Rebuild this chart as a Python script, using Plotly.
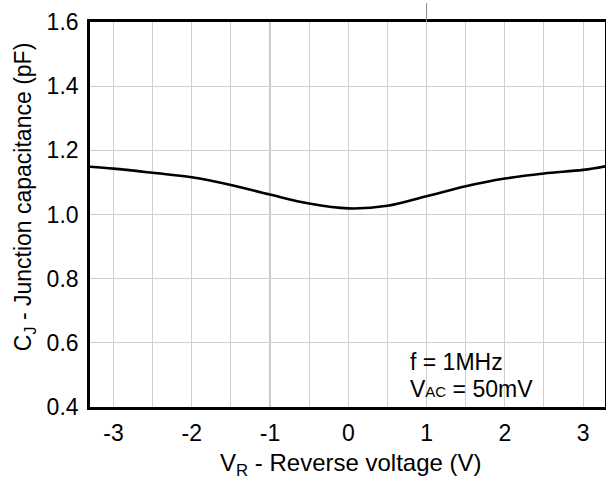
import plotly.graph_objects as go

# Data
v_r = [-3.3, -3.0, -2.5, -2.0, -1.5, -1.0, -0.5, 0.0, 0.5, 1.0, 1.5, 2.0, 2.5, 3.0, 3.3]
c_j = [1.149, 1.143, 1.130, 1.116, 1.092, 1.062, 1.034, 1.019, 1.027, 1.057, 1.088, 1.112, 1.128, 1.139, 1.151]

x_grid = [-3.0, -2.5, -2.0, -1.5, -1.0, -0.5, 0.0, 0.5, 1.0, 1.5, 2.0, 2.5, 3.0]
x_text = ["-3", "", "-2", "", "-1", "", "0", "", "1", "", "2", "", "3"]
y_ticks = [0.4, 0.6, 0.8, 1.0, 1.2, 1.4, 1.6]
y_text = ["0.4", "0.6", "0.8", "1.0", "1.2", "1.4", "1.6"]

FONT = "Liberation Sans, Arial, sans-serif"

fig = go.Figure()
fig.add_trace(go.Scatter(x=v_r, y=c_j, mode="lines",
                         line=dict(color="black", width=2.6, shape="spline", smoothing=1.0),
                         showlegend=False, hoverinfo="skip"))

# darker gridlines at +-1
for xv in (-1.0, 1.0):
    fig.add_shape(type="line", xref="x", yref="y", x0=xv, x1=xv, y0=0.4, y1=1.6,
                  line=dict(color="#8a8a8a", width=1), layer="below")
# line extending above the frame at x=1
fig.add_shape(type="line", xref="x", yref="paper", x0=1.0, x1=1.0, y0=1.0, y1=1.049,
              line=dict(color="#8a8a8a", width=1), layer="above")
# white box behind the annotation
fig.add_shape(type="rect", xref="x", yref="y", x0=0.53, x1=2.45, y0=0.4, y1=0.596,
              line=dict(width=0), fillcolor="white", layer="below")

fig.add_annotation(x=0.76, y=0.539, xref="x", yref="y", xanchor="left", yanchor="middle",
                   text="f = 1MHz", showarrow=False, font=dict(family=FONT, size=23, color="black"))
fig.add_annotation(x=0.76, y=0.455, xref="x", yref="y", xanchor="left", yanchor="middle",
                   text="V<span style='font-size:15px'>AC</span> = 50mV", showarrow=False,
                   font=dict(family=FONT, size=23, color="black"))

# axis titles
fig.add_annotation(x=0.507, y=0, xref="paper", yref="paper", xanchor="center", yanchor="top",
                   yshift=-40, showarrow=False,
                   text="V<sub>R</sub> - Reverse voltage (V)", font=dict(family=FONT, size=24, color="black"))
fig.add_annotation(x=0, y=0.545, xref="paper", yref="paper", xanchor="center", yanchor="middle",
                   xshift=-66, textangle=-90, showarrow=False,
                   text="C<sub>J</sub> - Junction capacitance (pF)", font=dict(family=FONT, size=23, color="black"))

fig.update_layout(
    width=606, height=481,
    margin=dict(l=90, r=1, t=22, b=74),
    paper_bgcolor="white", plot_bgcolor="white",
    font=dict(family=FONT, size=23, color="black"),
    xaxis=dict(range=[-3.3, 3.28], tickmode="array", tickvals=x_grid, ticktext=x_text,
               showgrid=True, gridcolor="#cfcfcf", gridwidth=1, zeroline=False,
               showline=True, mirror=True, linecolor="black", linewidth=2.6,
               ticks="", ticklabelstandoff=4, automargin=False),
    yaxis=dict(range=[0.4, 1.6], tickmode="array", tickvals=y_ticks, ticktext=y_text,
               showgrid=True, gridcolor="#cfcfcf", gridwidth=1, zeroline=False,
               showline=True, mirror=True, linecolor="black", linewidth=2.6,
               ticks="", ticklabelstandoff=4, automargin=False),
)

fig.write_html("out.html", config={"displayModeBar": False},
               post_script="document.body.style.margin='0';")
